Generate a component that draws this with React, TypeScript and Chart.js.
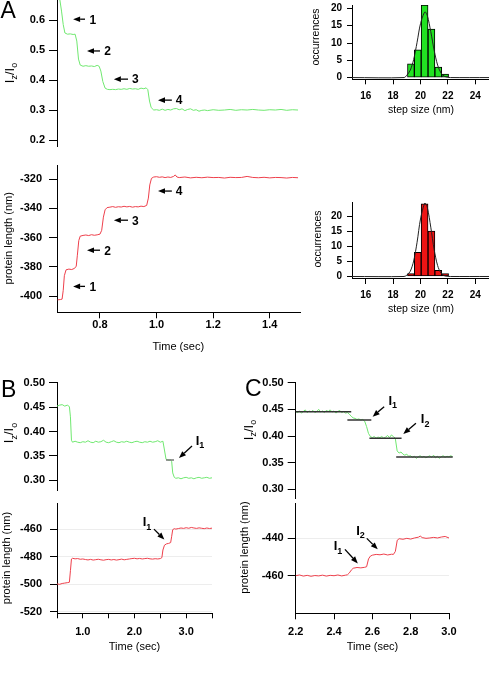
import React, { useEffect, useRef } from "react";
import { Chart, registerables } from "chart.js";

Chart.register(...registerables);

const FAMILY = '"Liberation Sans", Arial, Helvetica, sans-serif';
const GREEN_TRACE = "rgb(112, 232, 112)";
const RED_TRACE = "rgb(238, 64, 76)";
const GREEN_BAR = "rgb(34, 226, 34)";
const RED_BAR = "rgb(236, 20, 20)";

// ---------- Panel A : fluorescence ratio trace ----------
const A_RATIO_TIME = [
  0.65, 0.658, 0.664, 0.67, 0.676, 0.685, 0.695, 0.705, 0.712, 0.718,
  0.724, 0.73, 0.74, 0.75, 0.76, 0.77, 0.78, 0.79, 0.797, 0.803,
  0.81, 0.818, 0.826, 0.835, 0.845, 0.855, 0.865, 0.875, 0.885, 0.895,
  0.905, 0.915, 0.925, 0.935, 0.945, 0.955, 0.963, 0.969, 0.975, 0.981,
  0.99, 1.0, 1.01, 1.02, 1.03, 1.04, 1.05, 1.06, 1.07, 1.08,
  1.09, 1.1, 1.11, 1.12, 1.13, 1.14, 1.15, 1.16, 1.17, 1.18,
  1.2, 1.22, 1.24, 1.26, 1.28, 1.3, 1.32, 1.34, 1.36, 1.38,
  1.4, 1.42, 1.44, 1.46, 1.48, 1.5,
];
const A_RATIO = [
  0.675, 0.668, 0.63, 0.585, 0.557, 0.553, 0.554, 0.552, 0.553, 0.53,
  0.47, 0.45, 0.446, 0.448, 0.446, 0.447, 0.445, 0.449, 0.446, 0.43,
  0.395, 0.373, 0.369, 0.368, 0.369, 0.368, 0.37, 0.369, 0.371, 0.369,
  0.372, 0.37, 0.371, 0.369, 0.373, 0.371, 0.374, 0.368, 0.33, 0.308,
  0.3, 0.301, 0.299, 0.303, 0.299, 0.302, 0.3, 0.304, 0.305, 0.301,
  0.304, 0.298, 0.302, 0.304, 0.299, 0.301, 0.296, 0.299, 0.3, 0.298,
  0.301, 0.299, 0.3, 0.302, 0.299, 0.301, 0.3, 0.302, 0.3, 0.299,
  0.301, 0.3, 0.302, 0.299, 0.301, 0.3,
];

// ---------- Panel A : protein length trace ----------
const A_LENGTH_TIME = [
  0.65, 0.66, 0.666, 0.67, 0.674, 0.68, 0.69, 0.7, 0.71, 0.716,
  0.72, 0.725, 0.73, 0.74, 0.75, 0.76, 0.77, 0.78, 0.79, 0.8,
  0.806, 0.812, 0.818, 0.825, 0.835, 0.845, 0.855, 0.865, 0.875, 0.885,
  0.895, 0.905, 0.915, 0.925, 0.935, 0.945, 0.955, 0.965, 0.971, 0.976,
  0.982, 0.99, 1.0, 1.01, 1.02, 1.03, 1.04, 1.05, 1.06, 1.066,
  1.072, 1.08,
  1.1, 1.12, 1.14, 1.16, 1.18, 1.2, 1.22, 1.24, 1.26, 1.28,
  1.3, 1.32, 1.34, 1.36, 1.38, 1.4, 1.42, 1.44, 1.46, 1.48,
  1.5,
];
const A_LENGTH = [
  -402.5, -402.3, -402.0, -396, -386, -382, -381.5, -381.8, -381.0, -379.5,
  -372, -362, -359, -358.5, -358.2, -358.6, -358.0, -358.4, -358.1, -357.6,
  -355, -346, -341, -339.5, -339.2, -338.8, -339.3, -338.9, -339.1, -338.6,
  -339.0, -338.7, -339.2, -338.8, -339.0, -338.5, -338.8, -338.0, -333, -324,
  -319.5, -318.6, -318.4, -318.8, -318.5, -319.0, -318.6, -318.9, -318.2, -317.2,
  -318.6, -319.0,
  -318.6, -319.2, -318.8, -319.1, -318.7, -319.0, -318.9, -319.3, -318.8, -319.0,
  -318.9, -318.2, -318.9, -319.1, -318.8, -319.2, -318.9, -319.0, -319.3, -318.9,
  -319.1,
];
const A_TIME_TICKS = [0.8, 1.0, 1.2, 1.4];
const A_RATIO_TICKS = [0.2, 0.3, 0.4, 0.5, 0.6];
const A_LENGTH_TICKS = [-400, -380, -360, -340, -320];

// step markers 1-4 in panel A
const A_STEP_NAMES = ["1", "2", "3", "4"];
const A_ARROW_TAIL = [0.747, 0.8, 0.899, 1.054];
const A_ARROW_HEAD = [0.705, 0.754, 0.849, 1.005];
const A_LABEL_AT = [0.775, 0.827, 0.925, 1.08];
const A_RATIO_MARK_Y = [0.603, 0.497, 0.403, 0.333];
const A_LENGTH_MARK_Y = [-393.3, -368.6, -348.1, -328.2];

// ---------- Panel A : step size histograms ----------
const HIST_BIN_CENTERS = [19.3, 19.8, 20.3, 20.8, 21.3, 21.8];
const HIST_GREEN_COUNTS = [4, 8, 21, 14, 3, 1];
const HIST_RED_COUNTS = [1, 8, 24, 15, 2, 1];
const FIT_X = [15, 18.8, 19.0, 19.25, 19.5, 19.75, 20.0, 20.32, 20.5, 20.75, 21.0, 21.25, 21.5, 21.75, 22.0, 22.2, 25];
const FIT_GREEN = [0, 0, 0.67, 2.1, 5.2, 10.2, 15.6, 19, 17.9, 13.3, 7.8, 3.6, 1.3, 0.37, 0.08, 0, 0];
const FIT_RED = [0, 0, 0.44, 1.7, 5.1, 11.3, 19.0, 24.3, 22.8, 16.3, 8.8, 3.6, 1.1, 0.25, 0.04, 0, 0];
const HIST_X_TICKS = [16, 18, 20, 22, 24];
const HIST_Y_TICKS = [0, 5, 10, 15, 20];

// ---------- Panel B ----------
const B_RATIO_TIME = [
  0.5, 0.55, 0.6, 0.65, 0.7, 0.74, 0.76, 0.78, 0.8, 0.85,
  0.9, 0.95, 1.0, 1.05, 1.1, 1.15, 1.2, 1.25, 1.3, 1.35,
  1.4, 1.45, 1.5, 1.55, 1.6, 1.65, 1.7, 1.75, 1.8, 1.85,
  1.9, 1.95, 2.0, 2.05, 2.1, 2.15, 2.2, 2.25, 2.3, 2.35,
  2.4, 2.45, 2.5, 2.55, 2.58, 2.61, 2.64, 2.67, 2.7, 2.72,
  2.74, 2.77, 2.8, 2.85, 2.9, 2.95, 3.0, 3.05, 3.1, 3.15,
  3.2, 3.25, 3.3, 3.35, 3.4, 3.45, 3.5,
];
const B_RATIO = [
  0.452, 0.454, 0.455, 0.452, 0.454, 0.451, 0.43, 0.382, 0.378, 0.38,
  0.378, 0.377, 0.379, 0.378, 0.381, 0.378, 0.377, 0.38, 0.378, 0.379,
  0.382, 0.378, 0.377, 0.379, 0.381, 0.378, 0.377, 0.379, 0.378, 0.38,
  0.378, 0.377, 0.379, 0.38, 0.378, 0.377, 0.379, 0.378, 0.38, 0.378,
  0.379, 0.381, 0.378, 0.38, 0.362, 0.343, 0.342, 0.341, 0.342, 0.338,
  0.315, 0.306, 0.304, 0.305, 0.303, 0.305, 0.306, 0.304, 0.305, 0.303,
  0.305, 0.306, 0.304, 0.305, 0.306, 0.304, 0.305,
];
const B_LENGTH_TIME = [
  0.5, 0.55, 0.6, 0.65, 0.7, 0.74, 0.76, 0.78, 0.8, 0.85,
  0.9, 0.95, 1.0, 1.05, 1.1, 1.15, 1.2, 1.25, 1.3, 1.35,
  1.4, 1.45, 1.5, 1.55, 1.6, 1.65, 1.7, 1.75, 1.8, 1.85,
  1.9, 1.95, 2.0, 2.05, 2.1, 2.15, 2.2, 2.25, 2.3, 2.35,
  2.4, 2.45, 2.5, 2.53, 2.55, 2.58, 2.62, 2.66, 2.7, 2.72,
  2.74, 2.77, 2.8, 2.85, 2.9, 2.95, 3.0, 3.05, 3.1, 3.15,
  3.2, 3.25, 3.3, 3.35, 3.4, 3.45, 3.5,
];
const B_LENGTH = [
  -499.6, -499.9, -499.3, -499.0, -498.7, -498.4, -490, -481.5, -481.0, -481.4,
  -481.2, -481.7, -481.5, -481.9, -482.2, -481.8, -482.3, -482.0, -481.7, -482.1,
  -482.4, -482.0, -481.8, -482.2, -481.9, -482.3, -482.0, -481.6, -482.1, -481.8,
  -481.5, -481.2, -481.0, -481.4, -481.1, -481.5, -481.2, -481.0, -481.4, -481.6,
  -481.3, -481.5, -481.2, -480.5, -475, -471.5, -470.5, -470.2, -469.6, -465,
  -460.2, -459.5, -459.8, -459.4, -459.0, -459.3, -458.8, -459.2, -458.6, -459.0,
  -459.3, -458.9, -459.2, -459.5, -459.0, -459.4, -459.1,
];
const B_TIME_TICKS = [0.5, 1.0, 1.5, 2.0, 2.5, 3.0, 3.5];
const B_RATIO_TICKS = [0.3, 0.35, 0.4, 0.45, 0.5];
const B_LENGTH_TICKS = [-520, -500, -480, -460];
const B_FIT_START = [2.61];
const B_FIT_END = [2.765];
const B_FIT_LEVEL = [0.3415];

// ---------- Panel C ----------
const C_RATIO_TIME = [
  2.2, 2.21, 2.22, 2.23, 2.24, 2.25, 2.26, 2.27, 2.28, 2.29,
  2.3, 2.31, 2.32, 2.33, 2.34, 2.35, 2.36, 2.37, 2.38, 2.39,
  2.4, 2.41, 2.42, 2.43, 2.44, 2.45, 2.46, 2.47, 2.48, 2.49,
  2.5, 2.51, 2.52, 2.53, 2.54, 2.55, 2.56, 2.57, 2.58, 2.59,
  2.6, 2.61, 2.62, 2.63, 2.64, 2.65, 2.66, 2.67, 2.68, 2.69,
  2.7, 2.71, 2.72, 2.73, 2.74, 2.75, 2.76, 2.77, 2.78, 2.79,
  2.8, 2.81, 2.82, 2.83, 2.84, 2.85, 2.86, 2.87, 2.88, 2.89,
  2.9, 2.91, 2.92, 2.93, 2.94, 2.95, 2.96, 2.97, 2.98, 2.99,
  3.0, 3.01, 3.02,
];
const C_RATIO = [
  0.446, 0.444, 0.447, 0.443, 0.446, 0.449, 0.444, 0.447, 0.445, 0.448,
  0.444, 0.446, 0.45, 0.445, 0.447, 0.444, 0.448, 0.446, 0.449, 0.445,
  0.447, 0.443, 0.446, 0.448, 0.444, 0.446, 0.443, 0.444, 0.441, 0.437,
  0.434, 0.433, 0.431, 0.432, 0.43, 0.431, 0.428, 0.418, 0.405, 0.399,
  0.397, 0.399, 0.396, 0.398, 0.397, 0.399, 0.396, 0.398, 0.401, 0.397,
  0.402, 0.399, 0.396, 0.372, 0.368, 0.37, 0.366, 0.364, 0.366, 0.362,
  0.363, 0.36, 0.362, 0.358, 0.361, 0.363, 0.36, 0.362, 0.359, 0.361,
  0.363, 0.36, 0.364, 0.359, 0.362, 0.358, 0.361, 0.363, 0.36, 0.362,
  0.361, 0.363, 0.361,
];
const C_LENGTH_TIME = [
  2.2, 2.22, 2.24, 2.26, 2.28, 2.3, 2.32, 2.34, 2.36, 2.38,
  2.4, 2.42, 2.44, 2.46, 2.47, 2.48, 2.49, 2.5, 2.52, 2.54,
  2.56, 2.57, 2.58, 2.59, 2.6, 2.62, 2.64, 2.66, 2.68, 2.7,
  2.71, 2.72, 2.73, 2.74, 2.76, 2.78, 2.8, 2.82, 2.84, 2.85,
  2.86, 2.88, 2.9, 2.92, 2.94, 2.96, 2.98, 3.0,
];
const C_LENGTH = [
  -460.0, -459.6, -460.2, -459.8, -460.3, -459.9, -460.1, -459.7, -460.2, -459.8,
  -460.0, -459.6, -460.1, -459.7, -459.5, -458.5, -457.0, -456.0, -455.6, -455.8,
  -455.5, -455.2, -451.0, -449.5, -449.0, -448.6, -448.8, -448.4, -448.9, -448.5,
  -448.6, -447.0, -441.0, -440.2, -440.5, -440.0, -440.4, -439.8, -439.4, -438.8,
  -439.6, -440.0, -439.8, -439.5, -439.8, -439.3, -439.0, -439.8,
];
const C_TIME_TICKS = [2.2, 2.4, 2.6, 2.8, 3.0];
const C_RATIO_TICKS = [0.3, 0.35, 0.4, 0.45, 0.5];
const C_LENGTH_TICKS = [-460, -440];
const C_FIT_START = [2.2, 2.47, 2.585, 2.725];
const C_FIT_END = [2.49, 2.595, 2.753, 3.02];
const C_FIT_LEVEL = [0.4455, 0.43, 0.3957, 0.3605];

// ---------- types & helpers ----------
type Seg = { t: string; sub?: boolean };
type TextItem = {
  segs: Seg[];
  x: number;
  y: number;
  size: number;
  subSize?: number;
  bold?: boolean;
  rot?: boolean;
  align?: "left" | "center";
  data?: boolean;
};
type ArrowItem = { x1: number; y1: number; x2: number; y2: number };
type AxisSpec = {
  min: number;
  max: number;
  ticks?: number[];
  fmt?: (v: number) => string;
  show: boolean;
  tickLen?: number;
  pad?: number;
  grid?: boolean;
};
type PanelSpec = {
  canvas: { l: number; t: number; w: number; h: number };
  plot: { l: number; t: number; r: number; b: number };
  type: "line" | "bar";
  datasets: any[];
  x: AxisSpec;
  y: AxisSpec;
  tickSize: number;
  texts: TextItem[];
  arrows: ArrowItem[];
};

const IZ_IO: Seg[] = [{ t: "I" }, { t: "z", sub: true }, { t: "/I" }, { t: "o", sub: true }];
const plain = (t: string): Seg[] => [{ t }];
const isub = (n: string): Seg[] => [{ t: "I" }, { t: n, sub: true }];

const pts = (xs: number[], ys: number[]) => xs.map((x, i) => ({ x, y: ys[i] }));

const trace = (xs: number[], ys: number[], color: string, width = 1) => ({
  type: "line",
  data: pts(xs, ys),
  borderColor: color,
  borderWidth: width,
  pointRadius: 0,
  tension: 0,
  fill: false,
  order: 2,
});

const fitSegments = (starts: number[], ends: number[], levels: number[], color: string) =>
  starts.map((s, i) => ({
    type: "line",
    data: [
      { x: s, y: levels[i] },
      { x: ends[i], y: levels[i] },
    ],
    borderColor: color,
    borderWidth: 1.5,
    pointRadius: 0,
    fill: false,
    order: 1,
  }));

const bars = (counts: number[], color: string) => ({
  type: "bar",
  data: pts(HIST_BIN_CENTERS, counts),
  backgroundColor: color,
  borderColor: "#000",
  borderWidth: 1,
  borderSkipped: false,
  barPercentage: 1,
  categoryPercentage: 1,
  order: 2,
});

const fitCurve = (ys: number[]) => ({
  type: "line",
  data: pts(FIT_X, ys),
  borderColor: "#222",
  borderWidth: 1,
  pointRadius: 0,
  tension: 0.3,
  fill: false,
  order: 1,
});

function drawRich(ctx: CanvasRenderingContext2D, item: TextItem, px: number, py: number) {
  const sub = item.subSize ?? Math.round(item.size * 0.7);
  const weight = item.bold ? "bold " : "";
  ctx.save();
  ctx.translate(px, py);
  if (item.rot) ctx.rotate(-Math.PI / 2);
  ctx.fillStyle = "#000";
  ctx.textBaseline = "alphabetic";
  ctx.textAlign = "left";
  const widths = item.segs.map((s) => {
    ctx.font = `${weight}${s.sub ? sub : item.size}px ${FAMILY}`;
    return ctx.measureText(s.t).width;
  });
  const total = widths.reduce((a, b) => a + b, 0);
  let cx = item.align === "left" ? 0 : -total / 2;
  const base = item.size * 0.36;
  item.segs.forEach((s, i) => {
    ctx.font = `${weight}${s.sub ? sub : item.size}px ${FAMILY}`;
    ctx.fillText(s.t, cx, base + (s.sub ? item.size * 0.28 : 0));
    cx += widths[i];
  });
  ctx.restore();
}

function drawArrow(ctx: CanvasRenderingContext2D, x1: number, y1: number, x2: number, y2: number) {
  const ang = Math.atan2(y2 - y1, x2 - x1);
  const len = 7;
  const half = 2.8;
  const bx = x2 - len * Math.cos(ang);
  const by = y2 - len * Math.sin(ang);
  ctx.strokeStyle = "#000";
  ctx.fillStyle = "#000";
  ctx.lineWidth = 1.3;
  ctx.beginPath();
  ctx.moveTo(x1, y1);
  ctx.lineTo(bx, by);
  ctx.stroke();
  ctx.beginPath();
  ctx.moveTo(x2, y2);
  ctx.lineTo(bx + half * Math.sin(ang), by - half * Math.cos(ang));
  ctx.lineTo(bx - half * Math.sin(ang), by + half * Math.cos(ang));
  ctx.closePath();
  ctx.fill();
}

function makeOverlay(spec: PanelSpec) {
  return {
    id: "panelOverlay",
    afterDraw(chart: any) {
      const ctx: CanvasRenderingContext2D = chart.ctx;
      const sx = chart.scales.x;
      const sy = chart.scales.y;
      const toPx = (x: number, y: number, data: boolean) =>
        data ? [sx.getPixelForValue(x), sy.getPixelForValue(y)] : [x - spec.canvas.l, y - spec.canvas.t];
      ctx.save();
      spec.arrows.forEach((a) => {
        const [x1, y1] = toPx(a.x1, a.y1, true);
        const [x2, y2] = toPx(a.x2, a.y2, true);
        drawArrow(ctx, x1, y1, x2, y2);
      });
      spec.texts.forEach((t) => {
        const [x, y] = toPx(t.x, t.y, !!t.data);
        drawRich(ctx, t, x, y);
      });
      ctx.restore();
    },
  };
}

function makeConfig(spec: PanelSpec) {
  const c = spec.canvas;
  const p = spec.plot;
  const yW = p.l - c.l;
  const padTop = p.t - c.t;
  const padRight = c.l + c.w - p.r;
  const below = c.t + c.h - p.b;
  const tickFont = { family: FAMILY, size: spec.tickSize, weight: "bold" as const };
  const xs = spec.x;
  const ys = spec.y;
  const zeroPad = (s: any) => {
    s.paddingLeft = 0;
    s.paddingRight = 0;
    s.paddingTop = 0;
    s.paddingBottom = 0;
  };
  return {
    type: spec.type,
    data: { datasets: spec.datasets },
    options: {
      responsive: false,
      maintainAspectRatio: false,
      animation: false,
      devicePixelRatio: 1,
      events: [],
      layout: {
        autoPadding: false,
        padding: { left: 0, top: padTop, right: padRight, bottom: xs.show ? 0 : below },
      },
      plugins: { legend: { display: false }, tooltip: { enabled: false }, title: { display: false } },
      scales: {
        x: {
          type: "linear",
          position: "bottom",
          min: xs.min,
          max: xs.max,
          display: xs.show,
          offset: false,
          grid: {
            display: true,
            offset: false,
            drawOnChartArea: false,
            drawTicks: true,
            tickLength: xs.tickLen ?? 5,
            tickColor: "#000",
            tickWidth: 1,
          },
          border: { display: true, color: "#000", width: 1 },
          ticks: {
            autoSkip: false,
            maxRotation: 0,
            minRotation: 0,
            padding: xs.pad ?? 4,
            color: "#000",
            font: tickFont,
            callback: (v: any) => (xs.fmt ? xs.fmt(Number(v)) : String(v)),
          },
          afterBuildTicks: (s: any) => {
            s.ticks = (xs.ticks ?? []).map((v) => ({ value: v }));
          },
          afterFit: (s: any) => {
            s.height = xs.show ? below : 0;
            zeroPad(s);
          },
        },
        y: {
          type: "linear",
          position: "left",
          min: ys.min,
          max: ys.max,
          grid: {
            display: true,
            drawOnChartArea: !!ys.grid,
            color: "rgba(0,0,0,0.07)",
            lineWidth: 1,
            drawTicks: true,
            tickLength: ys.tickLen ?? 8,
            tickColor: "#000",
            tickWidth: 1,
          },
          border: { display: true, color: "#000", width: 1 },
          ticks: {
            autoSkip: false,
            padding: ys.pad ?? 4,
            color: "#000",
            font: tickFont,
            callback: (v: any) => (ys.fmt ? ys.fmt(Number(v)) : String(v)),
          },
          afterBuildTicks: (s: any) => {
            s.ticks = (ys.ticks ?? []).map((v) => ({ value: v }));
          },
          afterFit: (s: any) => {
            s.width = yW;
            zeroPad(s);
          },
        },
      },
    },
    plugins: [makeOverlay(spec)],
  };
}

// ---------- panel specifications ----------
const fmt1 = (v: number) => v.toFixed(1);
const fmt2 = (v: number) => v.toFixed(2);
const fmtInt = (v: number) => String(Math.round(v));

const SPEC_A1: PanelSpec = {
  canvas: { l: 0, t: -12, w: 312, h: 166 },
  plot: { l: 57, t: 0, r: 300, b: 146 },
  type: "line",
  datasets: [trace(A_RATIO_TIME, A_RATIO, GREEN_TRACE)],
  x: { min: 0.648, max: 1.507, show: false },
  y: { min: 0.18, max: 0.667, ticks: A_RATIO_TICKS, fmt: fmt1, show: true, tickLen: 8, pad: 4 },
  tickSize: 11,
  texts: [
    { segs: plain("A"), x: 0.5, y: 10, size: 23, align: "left" },
    { segs: IZ_IO, x: 9, y: 73, size: 13, subSize: 9, rot: true },
    ...A_STEP_NAMES.map((n, i) => ({ segs: plain(n), x: A_LABEL_AT[i], y: A_RATIO_MARK_Y[i], size: 12, bold: true, data: true })),
  ],
  arrows: A_STEP_NAMES.map((_, i) => ({ x1: A_ARROW_TAIL[i], y1: A_RATIO_MARK_Y[i], x2: A_ARROW_HEAD[i], y2: A_RATIO_MARK_Y[i] })),
};

const SPEC_A2: PanelSpec = {
  canvas: { l: 0, t: 155, w: 312, h: 205 },
  plot: { l: 57, t: 165, r: 300, b: 312.3 },
  type: "line",
  datasets: [trace(A_LENGTH_TIME, A_LENGTH, RED_TRACE)],
  x: { min: 0.648, max: 1.507, ticks: A_TIME_TICKS, fmt: fmt1, show: true, tickLen: 6, pad: 0 },
  y: { min: -411, max: -310.4, ticks: A_LENGTH_TICKS, fmt: fmtInt, show: true, tickLen: 8, pad: 7 },
  tickSize: 11,
  texts: [
    { segs: plain("protein length (nm)"), x: 8, y: 238.3, size: 11, rot: true },
    { segs: plain("Time (sec)"), x: 178.3, y: 346.5, size: 11 },
    ...A_STEP_NAMES.map((n, i) => ({ segs: plain(n), x: A_LABEL_AT[i], y: A_LENGTH_MARK_Y[i], size: 12, bold: true, data: true })),
  ],
  arrows: A_STEP_NAMES.map((_, i) => ({ x1: A_ARROW_TAIL[i], y1: A_LENGTH_MARK_Y[i], x2: A_ARROW_HEAD[i], y2: A_LENGTH_MARK_Y[i] })),
};

const SPEC_H1: PanelSpec = {
  canvas: { l: 300, t: -5, w: 189, h: 125 },
  plot: { l: 352, t: 5, r: 489, b: 79.3 },
  type: "bar",
  datasets: [fitCurve(FIT_GREEN), bars(HIST_GREEN_COUNTS, GREEN_BAR)],
  x: { min: 15, max: 25, ticks: HIST_X_TICKS, fmt: fmtInt, show: true, tickLen: 5, pad: 6 },
  y: { min: -0.5, max: 21, ticks: HIST_Y_TICKS, fmt: fmtInt, show: true, tickLen: 5, pad: 5 },
  tickSize: 10,
  texts: [
    { segs: plain("occurrences"), x: 315, y: 37, size: 10.5, rot: true },
    { segs: plain("step size (nm)"), x: 421, y: 109.5, size: 10.5 },
  ],
  arrows: [],
};

const SPEC_H2: PanelSpec = {
  canvas: { l: 300, t: 190, w: 189, h: 125 },
  plot: { l: 352, t: 202.7, r: 489, b: 278 },
  type: "bar",
  datasets: [fitCurve(FIT_RED), bars(HIST_RED_COUNTS, RED_BAR)],
  x: { min: 15, max: 25, ticks: HIST_X_TICKS, fmt: fmtInt, show: true, tickLen: 6, pad: 5 },
  y: { min: -0.5, max: 24.4, ticks: HIST_Y_TICKS, fmt: fmtInt, show: true, tickLen: 5, pad: 5 },
  tickSize: 10,
  texts: [
    { segs: plain("occurrences"), x: 317, y: 239, size: 10.5, rot: true },
    { segs: plain("step size (nm)"), x: 421, y: 308, size: 10.5 },
  ],
  arrows: [],
};

const SPEC_B1: PanelSpec = {
  canvas: { l: 0, t: 372, w: 225, h: 125 },
  plot: { l: 57, t: 382.7, r: 212, b: 490 },
  type: "line",
  datasets: [trace(B_RATIO_TIME, B_RATIO, GREEN_TRACE), ...fitSegments(B_FIT_START, B_FIT_END, B_FIT_LEVEL, "#777")],
  x: { min: 0.5, max: 3.5, show: false },
  y: { min: 0.28, max: 0.5, ticks: B_RATIO_TICKS, fmt: fmt2, show: true, tickLen: 8, pad: 4 },
  tickSize: 11,
  texts: [
    { segs: plain("B"), x: 1, y: 388.5, size: 23, align: "left" },
    { segs: IZ_IO, x: 8.5, y: 433, size: 13, subSize: 9, rot: true },
    { segs: isub("1"), x: 3.268, y: 0.3825, size: 13, subSize: 9, bold: true, data: true },
  ],
  arrows: [{ x1: 3.113, y1: 0.37, x2: 2.861, y2: 0.3456 }],
};

const SPEC_B2: PanelSpec = {
  canvas: { l: 0, t: 495, w: 225, h: 165 },
  plot: { l: 57, t: 503, r: 212, b: 613.3 },
  type: "line",
  datasets: [trace(B_LENGTH_TIME, B_LENGTH, RED_TRACE)],
  x: {
    min: 0.5,
    max: 3.5,
    ticks: B_TIME_TICKS,
    fmt: (v) => (Math.abs(v - Math.round(v)) < 1e-6 ? v.toFixed(1) : ""),
    show: true,
    tickLen: 5,
    pad: 7.5,
  },
  y: { min: -520.95, max: -440.85, ticks: B_LENGTH_TICKS, fmt: fmtInt, show: true, tickLen: 7, pad: 8, grid: true },
  tickSize: 11,
  texts: [
    { segs: plain("protein length (nm)"), x: 6, y: 558, size: 11, rot: true },
    { segs: plain("Time (sec)"), x: 134.5, y: 646.5, size: 11 },
    { segs: isub("1"), x: 2.242, y: -454.5, size: 13, subSize: 9, bold: true, data: true },
  ],
  arrows: [{ x1: 2.377, y1: -459.8, x2: 2.577, y2: -467.3 }],
};

const SPEC_C1: PanelSpec = {
  canvas: { l: 240, t: 372, w: 249, h: 135 },
  plot: { l: 295.7, t: 382.7, r: 454.6, b: 498 },
  type: "line",
  datasets: [trace(C_RATIO_TIME, C_RATIO, GREEN_TRACE), ...fitSegments(C_FIT_START, C_FIT_END, C_FIT_LEVEL, "#333")],
  x: { min: 2.2, max: 3.03, show: false },
  y: { min: 0.2837, max: 0.5, ticks: C_RATIO_TICKS, fmt: fmt2, show: true, tickLen: 8, pad: 4 },
  tickSize: 11,
  texts: [
    { segs: plain("C"), x: 245, y: 388, size: 23, align: "left" },
    { segs: IZ_IO, x: 248, y: 430, size: 13, subSize: 9, rot: true },
    { segs: isub("1"), x: 2.707, y: 0.4675, size: 13, subSize: 9, bold: true, data: true },
    { segs: isub("2"), x: 2.876, y: 0.4332, size: 13, subSize: 9, bold: true, data: true },
  ],
  arrows: [
    { x1: 2.662, y1: 0.455, x2: 2.602, y2: 0.4362 },
    { x1: 2.828, y1: 0.4238, x2: 2.762, y2: 0.4038 },
  ],
};

const SPEC_C2: PanelSpec = {
  canvas: { l: 240, t: 495, w: 249, h: 165 },
  plot: { l: 295.7, t: 503, r: 449, b: 613.3 },
  type: "line",
  datasets: [trace(C_LENGTH_TIME, C_LENGTH, RED_TRACE)],
  x: { min: 2.2, max: 3.0, ticks: C_TIME_TICKS, fmt: fmt1, show: true, tickLen: 6, pad: 6 },
  y: { min: -480.1, max: -421.1, ticks: C_LENGTH_TICKS, fmt: fmtInt, show: true, tickLen: 8, pad: 4, grid: true },
  tickSize: 11,
  texts: [
    { segs: plain("protein length (nm)"), x: 244.5, y: 547.5, size: 11, rot: true },
    { segs: plain("Time (sec)"), x: 372.5, y: 646.5, size: 11 },
    { segs: isub("1"), x: 2.421, y: -444.0, size: 13, subSize: 9, bold: true, data: true },
    { segs: isub("2"), x: 2.538, y: -435.6, size: 13, subSize: 9, bold: true, data: true },
  ],
  arrows: [
    { x1: 2.457, y1: -445.9, x2: 2.524, y2: -453.4 },
    { x1: 2.571, y1: -440.0, x2: 2.628, y2: -445.9 },
  ],
};

const SPECS = [SPEC_A1, SPEC_A2, SPEC_H1, SPEC_H2, SPEC_B1, SPEC_B2, SPEC_C1, SPEC_C2];

function ChartPanel({ spec }: { spec: PanelSpec }) {
  const ref = useRef<HTMLCanvasElement>(null);
  useEffect(() => {
    if (!ref.current) return;
    const chart = new Chart(ref.current, makeConfig(spec) as any);
    return () => chart.destroy();
  }, [spec]);
  const c = spec.canvas;
  return (
    <canvas
      ref={ref}
      width={c.w}
      height={c.h}
      style={{ position: "absolute", left: c.l, top: c.t, width: c.w, height: c.h }}
    />
  );
}

export default function App() {
  return (
    <div
      style={{
        position: "fixed",
        left: 0,
        top: 0,
        width: 489,
        height: 695,
        overflow: "hidden",
        background: "#fff",
      }}
    >
      {SPECS.map((s, i) => (
        <ChartPanel key={i} spec={s} />
      ))}
    </div>
  );
}
